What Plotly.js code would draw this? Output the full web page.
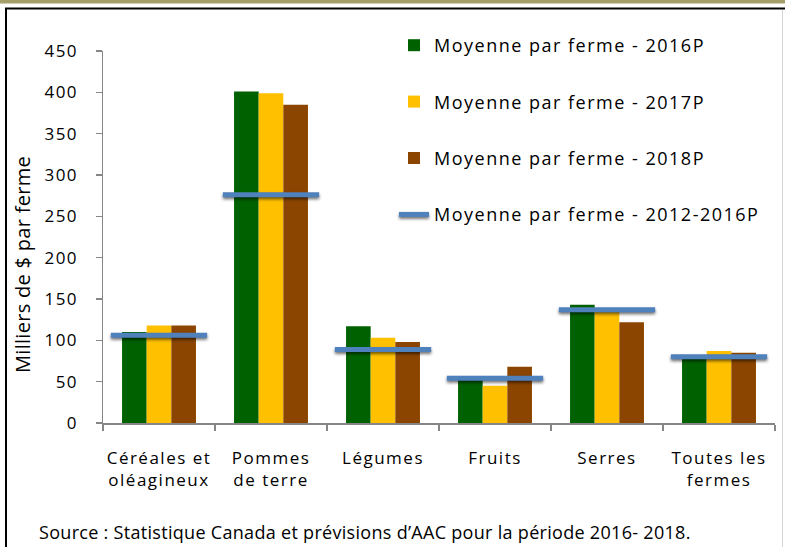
<!DOCTYPE html>
<html>
<head>
<meta charset="utf-8">
<script src="https://cdn.plot.ly/plotly-3.0.1.min.js"></script>
<style>
  html, body { margin: 0; padding: 0; background: #ffffff; }
  #chart { width: 785px; height: 547px; }
  .xtick text, .ytick text, .legendtext { letter-spacing: 1.5px; }
  .annotation-text { letter-spacing: 0.3px; }
  .scatterlayer .js-line, .legend .js-line { filter: drop-shadow(0px 2px 1.5px rgba(0,0,0,0.55)); }
</style>
</head>
<body>
<div id="chart"></div>
<script>
const categories = ["Céréales et<br>oléagineux", "Pommes<br>de terre", "Légumes", "Fruits", "Serres", "Toutes les<br>fermes"];
const seriesNames = ["Moyenne par ferme - 2016P", "Moyenne par ferme - 2017P", "Moyenne par ferme - 2018P", "Moyenne par ferme - 2012-2016P"];
const values2016 = [110, 401, 117, 52, 143, 79];
const values2017 = [118, 399, 103, 45, 136, 87];
const values2018 = [118, 385, 98, 68, 122, 85];
const avg2012_2016 = [106, 276, 89, 54, 137, 80];
const yTicks = [0, 50, 100, 150, 200, 250, 300, 350, 400, 450];

const barColors = ["#006100", "#ffc000", "#8b4500"];
const FONT = "Open Sans, Liberation Sans, sans-serif";

// Average line: one short horizontal segment per category, on an overlaying numeric axis
const halfSpan = 0.43;
const lx = [], ly = [];
avg2012_2016.forEach((v, i) => {
  lx.push(i - halfSpan, i + halfSpan, null);
  ly.push(v, v, null);
});

const traces = [
  { type: "bar", name: seriesNames[0], x: categories, y: values2016, marker: { color: barColors[0] }, legendgroup: "a" },
  { type: "bar", name: seriesNames[1], x: categories, y: values2017, marker: { color: barColors[1] }, legendgroup: "b" },
  { type: "bar", name: seriesNames[2], x: categories, y: values2018, marker: { color: barColors[2] }, legendgroup: "c" },
  { type: "scatter", mode: "lines", name: seriesNames[3], x: lx, y: ly, xaxis: "x2",
    line: { color: "#4f81bd", width: 5 }, connectgaps: false, legendgroup: "d", hoverinfo: "skip" }
];

// pixel -> paper helpers for decorations
const L = 103, R = 775, T = 51, B = 423;
const px = p => (p - L) / (R - L);
const py = p => (B - p) / (B - T);

const layout = {
  width: 785, height: 547,
  margin: { l: L, r: 785 - R, t: T, b: 547 - B, pad: 0 },
  paper_bgcolor: "#ffffff", plot_bgcolor: "#ffffff",
  font: { family: FONT, size: 17, color: "#000000" },
  barmode: "group", bargap: 0.34, bargroupgap: 0,
  showlegend: true,
  legend: {
    x: px(394), y: py(27), xanchor: "left", yanchor: "top",
    traceorder: "grouped", tracegroupgap: 30,
    font: { family: FONT, size: 18, color: "#000000" },
    bgcolor: "rgba(255,255,255,0)", borderwidth: 0
  },
  xaxis: {
    type: "category", tickson: "boundaries", ticks: "outside", ticklen: 6, tickcolor: "#868686", tickwidth: 1.5,
    showline: true, linecolor: "#868686", linewidth: 1.5, showgrid: false, zeroline: false,
    ticklabelstandoff: 19,
    tickfont: { family: FONT, size: 17, color: "#000000" }, fixedrange: true
  },
  xaxis2: {
    overlaying: "x", range: [-0.5, categories.length - 0.5], visible: false, fixedrange: true
  },
  yaxis: {
    range: [0, 450], tickvals: yTicks, ticktext: yTicks.map(String),
    ticks: "outside", ticklen: 6, tickcolor: "#868686", tickwidth: 1.5,
    showline: true, linecolor: "#868686", linewidth: 1.5, showgrid: false, zeroline: false,
    ticklabelstandoff: 14,
    tickfont: { family: FONT, size: 17, color: "#000000" }, fixedrange: true
  },
  annotations: [
    { text: "Milliers de $ par ferme", xref: "paper", yref: "paper", x: px(22), y: py(265),
      xanchor: "center", yanchor: "middle", textangle: -90, showarrow: false,
      font: { family: FONT, size: 20, color: "#000000" } },
    { text: "Source : Statistique Canada et prévisions d’AAC pour la période 2016- 2018.",
      xref: "paper", yref: "paper", x: px(37), y: py(532), xanchor: "left", yanchor: "middle",
      showarrow: false, font: { family: FONT, size: 18, color: "#000000" } }
  ],
  shapes: [
    { type: "rect", xref: "paper", yref: "paper", x0: px(-5), x1: px(790), y0: py(3.5), y1: py(-5),
      fillcolor: "#a59d6a", line: { width: 0 }, layer: "above" },
    { type: "line", xref: "paper", yref: "paper", x0: px(5), x1: px(790), y0: py(8.5), y1: py(8.5),
      line: { color: "#000000", width: 2 } },
    { type: "line", xref: "paper", yref: "paper", x0: px(6), x1: px(6), y0: py(8.5), y1: py(550),
      line: { color: "#000000", width: 2 } },
    { type: "line", xref: "paper", yref: "paper", x0: px(782.5), x1: px(782.5), y0: py(10), y1: py(550),
      line: { color: "#d4d4d4", width: 1 } }
  ]
};

Plotly.newPlot("chart", traces, layout, { displayModeBar: false, staticPlot: true });
</script>
</body>
</html>
